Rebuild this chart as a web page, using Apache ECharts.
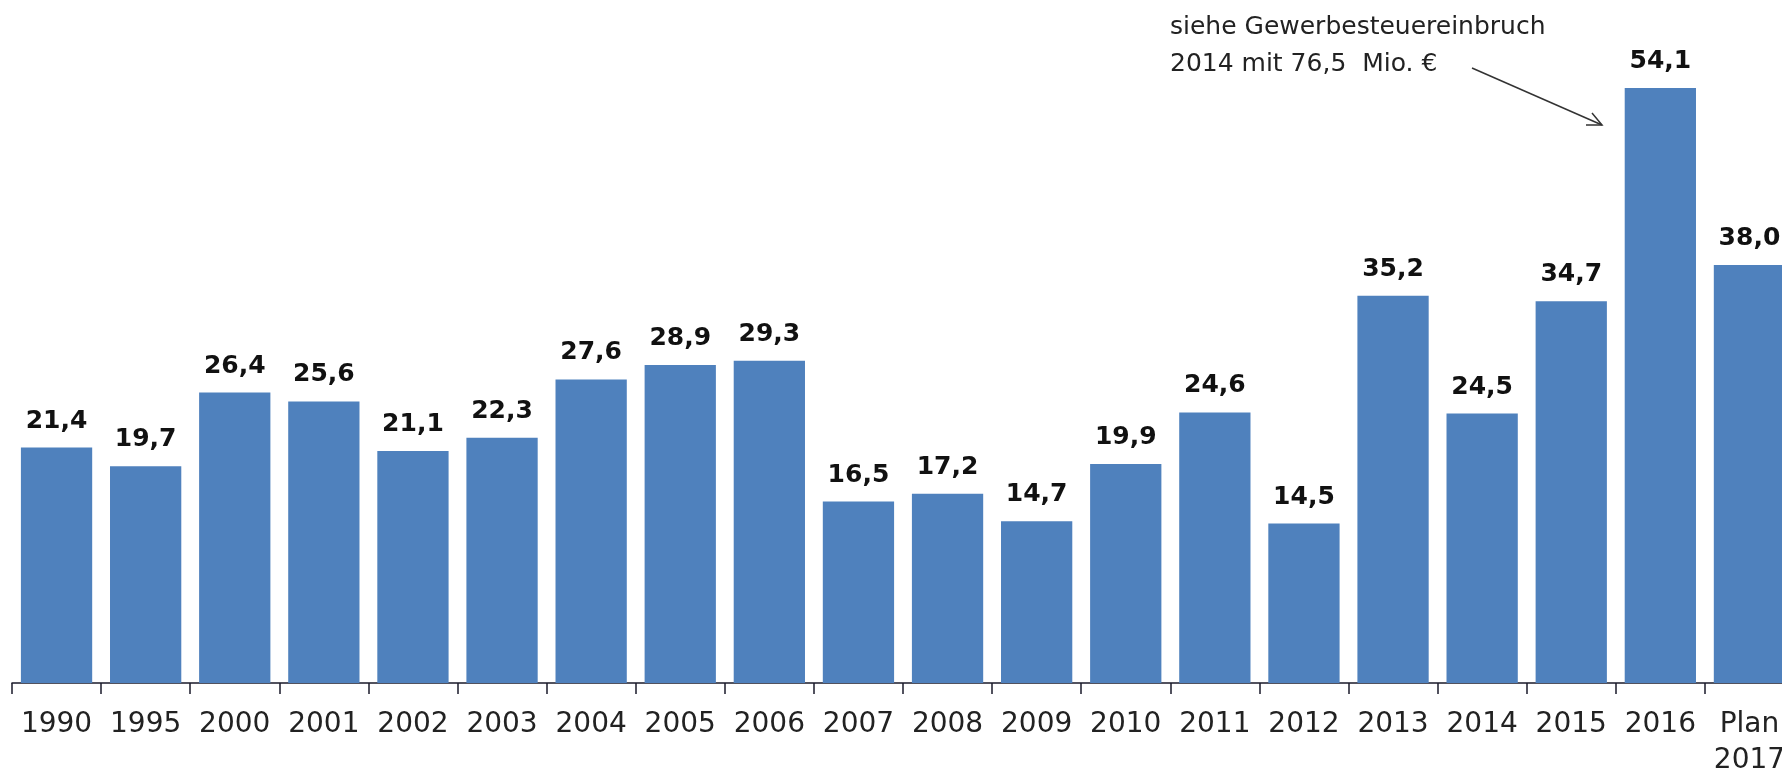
<!DOCTYPE html>
<html>
<head>
<meta charset="utf-8">
<script src="https://cdn.jsdelivr.net/npm/echarts@6/dist/echarts.min.js"></script>
<style>
html,body{margin:0;padding:0;background:#fff;overflow:hidden;}
#chart{width:1782px;height:771px;}
</style>
</head>
<body>
<div id="chart"></div>
<script>
var categories = ['1990','1995','2000','2001','2002','2003','2004','2005','2006','2007','2008','2009','2010','2011','2012','2013','2014','2015','2016','Plan\n2017'];
var values = [21.4,19.7,26.4,25.6,21.1,22.3,27.6,28.9,29.3,16.5,17.2,14.7,19.9,24.6,14.5,35.2,24.5,34.7,54.1,38.0];
var annotationLines = ['siehe Gewerbesteuereinbruch', '2014 mit 76,5  Mio. €'];

var chart = echarts.init(document.getElementById('chart'));
chart.setOption({
  animation: false,
  backgroundColor: '#ffffff',
  grid: {left: 12, top: 23, bottom: 88, width: 1782, containLabel: false, outerBoundsMode: 'none'},
  xAxis: {
    type: 'category',
    data: categories,
    axisLine: {lineStyle: {color: '#1a1a2a', width: 1.5}},
    axisTick: {show: true, length: 11, lineStyle: {color: '#1a1a2a', width: 1.5}},
    axisLabel: {
      interval: 0,
      margin: 24,
      color: '#222',
      fontFamily: 'DejaVu Sans',
      fontSize: 28,
      lineHeight: 36
    }
  },
  yAxis: {
    type: 'value',
    min: 0,
    max: 60,
    show: false,
    splitLine: {show: false}
  },
  series: [{
    type: 'bar',
    data: values,
    barCategoryGap: '20%',
    itemStyle: {color: '#4f81bd'},
    label: {
      show: true,
      position: 'top',
      distance: 14,
      color: '#111',
      fontFamily: 'DejaVu Sans',
      fontWeight: 'bold',
      fontSize: 25,
      formatter: function (p) { return p.value.toFixed(1).replace('.', ','); }
    }
  }],
  graphic: [
    {
      type: 'text',
      left: 1170,
      top: 9,
      style: {
        text: annotationLines.join('\n'),
        fill: '#222',
        fontFamily: 'DejaVu Sans',
        fontSize: 25,
        lineHeight: 37
      }
    },
    {
      type: 'line',
      shape: {x1: 1472, y1: 68, x2: 1602, y2: 125},
      style: {stroke: '#333', lineWidth: 1.5}
    },
    {
      type: 'polyline',
      shape: {points: [[1592, 113], [1602, 125], [1586, 125]]},
      style: {stroke: '#333', lineWidth: 1.5, fill: null}
    }
  ]
});
</script>
</body>
</html>
